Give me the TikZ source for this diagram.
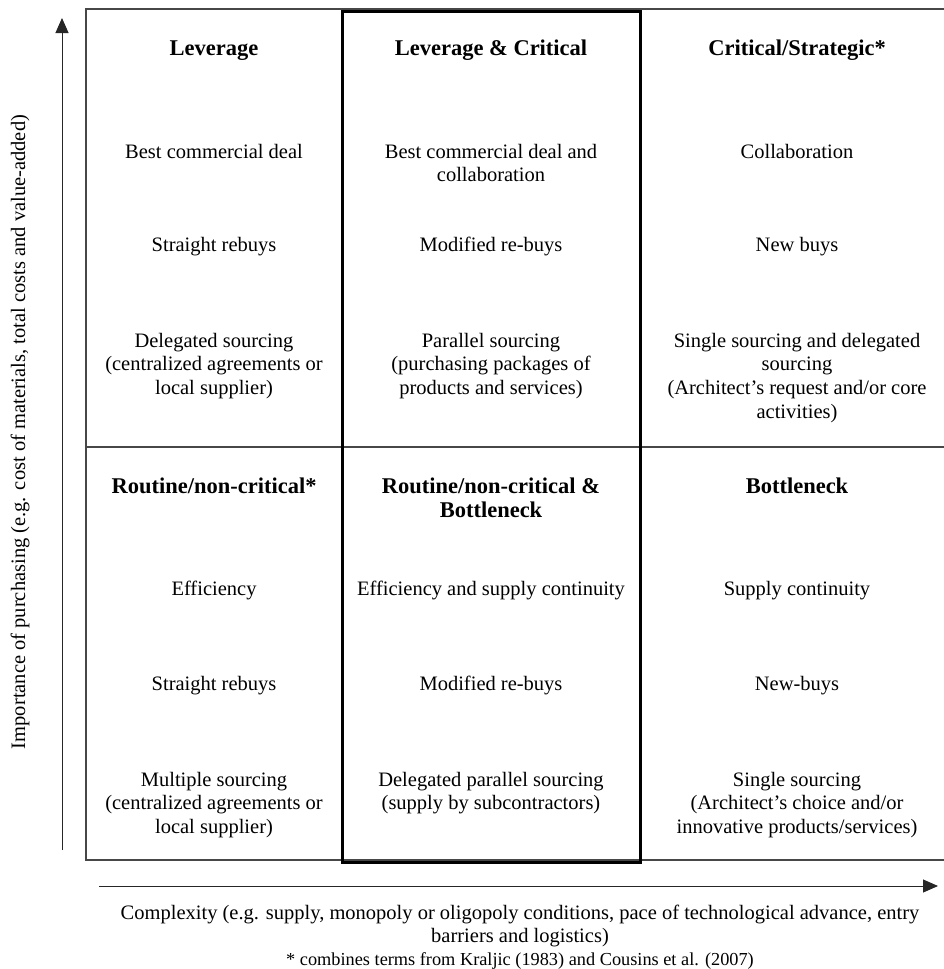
\documentclass[tikz,border=0pt]{standalone}
\usepackage{fontspec}
\setmainfont{Liberation Serif}
\usetikzlibrary{arrows.meta}
\begin{document}
\begin{tikzpicture}[x=1pt,y=-1pt,
  cell/.style={anchor=base,align=center,inner sep=0pt,font=\fontsize{20.5}{23.8}\selectfont},
  ttl/.style={anchor=base,align=center,inner sep=0pt,font=\fontsize{22.5}{24.5}\selectfont\bfseries},
  note/.style={anchor=base,align=center,inner sep=0pt,font=\fontsize{18.3}{21}\selectfont},
  thinline/.style={line width=1.1pt,draw=black!72},
  thickline/.style={line width=3pt,draw=black},
  axis/.style={line width=1pt,draw=black!85,-{Triangle[length=15pt,width=13pt]}}]
\useasboundingbox (0,0) rectangle (944,969);
\clip (0,0) rectangle (944,969);
\fill[white] (0,0) rectangle (944,969);
% grid
\draw[thinline] (86,9) rectangle (960,860);
\draw[thinline] (86,447) -- (960,447);
\draw[thickline] (342,11) rectangle (640,862);
% top row (anchor = baseline of last line)
\node[ttl] (t1) at (214,55) {Leverage};
\node[ttl] (t2) at (491,55) {Leverage \& Critical};
\node[ttl] (t3) at (797,55) {Critical/Strategic*};
\node[cell] (a1) at (214,158) {Best commercial deal};
\node[cell] (a2) at (491,181.8) {Best commercial deal and\\collaboration};
\node[cell] (a3) at (797,158) {Collaboration};
\node[cell] (b1) at (214,251) {Straight rebuys};
\node[cell] (b2) at (491,251) {Modified re-buys};
\node[cell] (b3) at (797,251) {New buys};
\node[cell] (c1) at (214,394.6) {Delegated sourcing\\(centralized agreements or\\local supplier)};
\node[cell] (c2) at (491,394.6) {Parallel sourcing\\(purchasing packages of\\products and services)};
\node[cell] (c3) at (797,418.4) {Single sourcing and delegated\\sourcing\\(Architect’s request and/or core\\activities)};
% bottom row
\node[ttl] (u1) at (214,493) {Routine/non-critical*};
\node[ttl] (u2) at (491,517.5) {Routine/non-critical \&\\Bottleneck};
\node[ttl] (u3) at (797,493) {Bottleneck};
\node[cell] (d1) at (214,595) {Efficiency};
\node[cell] (d2) at (491,595) {Efficiency and supply continuity};
\node[cell] (d3) at (797,595) {Supply continuity};
\node[cell] (e1) at (214,690) {Straight rebuys};
\node[cell] (e2) at (491,690) {Modified re-buys};
\node[cell] (e3) at (797,690) {New-buys};
\node[cell] (f1) at (214,833.6) {Multiple sourcing\\(centralized agreements or\\local supplier)};
\node[cell] (f2) at (491,809.8) {Delegated parallel sourcing\\(supply by subcontractors)};
\node[cell] (f3) at (797,833.6) {Single sourcing\\(Architect’s choice and/or\\innovative products/services)};
% axes
\coordinate (ya0) at (62,850);
\coordinate (ya1) at (62,18);
\draw[axis] (ya0) -- (ya1);
\coordinate (xa0) at (99,886);
\coordinate (xa1) at (938,886);
\draw[axis] (xa0) -- (xa1);
\node[cell,anchor=center,rotate=90] (ylab) at (20,432) {Importance of purchasing (e.g. cost of materials, total costs and value-added)};
\node[cell] (xlab) at (520,942.8) {Complexity (e.g. supply, monopoly or oligopoly conditions, pace of technological advance, entry\\barriers and logistics)};
\node[note] (fn) at (520,965) {* combines terms from Kraljic (1983) and Cousins et al. (2007)};
\end{tikzpicture}
\end{document}
